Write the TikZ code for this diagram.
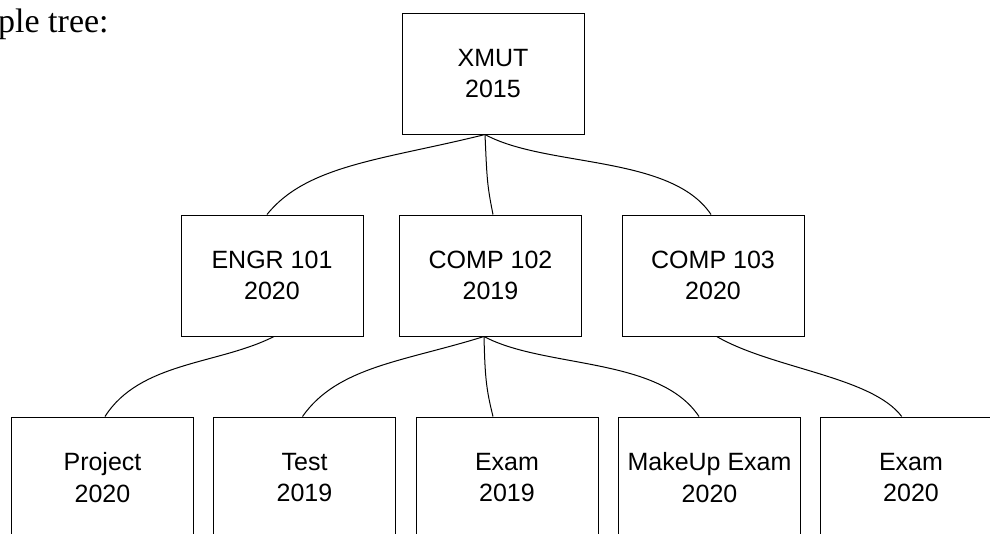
\documentclass[tikz,border=0pt]{standalone}
\usepackage{fontspec}
\setsansfont{Liberation Sans}
\newfontfamily\capfont{Liberation Serif}
\usetikzlibrary{calc}
\begin{document}
\begin{tikzpicture}[x=1pt,y=-1pt,
  box/.style={draw=black, line width=1pt, minimum width=182pt, minimum height=121pt,
    inner sep=0pt, align=center, font=\sffamily\fontsize{25}{31.5}\selectfont},
  link/.style={draw=black, line width=1pt}]
\clip (0,0) rectangle (990,533);
\node[anchor=base west, inner sep=0pt, font=\capfont\fontsize{34}{38}\selectfont] (cap) at (-2,32) {ple tree:};
\node[box] (xmut) at (493,73.5) {XMUT\\2015};
\node[box] (engr) at (272,275.5) {ENGR 101\\2020};
\node[box] (c102) at (490.5,275.5) {COMP 102\\2019};
\node[box] (c103) at (713,275.5) {COMP 103\\2020};
\node[box] (proj) at (102.5,477.5) {Project\\2020};
\node[box] (test) at (304.5,477.5) {Test\\2019};
\node[box] (examA) at (507,477.5) {Exam\\2019};
\node[box] (mkup) at (709.5,477.5) {MakeUp Exam\\2020};
\node[box] (examB) at (911,477.5) {Exam\\2020};
\draw[link] ([xshift=-8pt]xmut.south) .. controls +(-100,25) and +(40,-50) .. ([xshift=-5pt]engr.north);
\draw[link] ([xshift=-8pt]xmut.south) .. controls +(2,45) and +(-6,-30) .. ([xshift=2.5pt]c102.north);
\draw[link] ([xshift=-8pt]xmut.south) .. controls +(60,33) and +(-40,-60) .. ([xshift=-2pt]c103.north);
\draw[link] ([xshift=2pt]engr.south) .. controls +(-55,28) and +(35,-55) .. ([xshift=2.5pt]proj.north);
\draw[link] ([xshift=-6.5pt]c102.south) .. controls +(-80,25) and +(35,-50) .. ([xshift=-2pt]test.north);
\draw[link] ([xshift=-6.5pt]c102.south) .. controls +(1,40) and +(-7,-28) .. ([xshift=-14pt]examA.north);
\draw[link] ([xshift=-6.5pt]c102.south) .. controls +(60,32) and +(-40,-60) .. ([xshift=-10.5pt]mkup.north);
\draw[link] ([xshift=3.7pt]c103.south) .. controls +(55,32) and +(-30,-40) .. ([xshift=-9.3pt]examB.north);
\end{tikzpicture}
\end{document}
